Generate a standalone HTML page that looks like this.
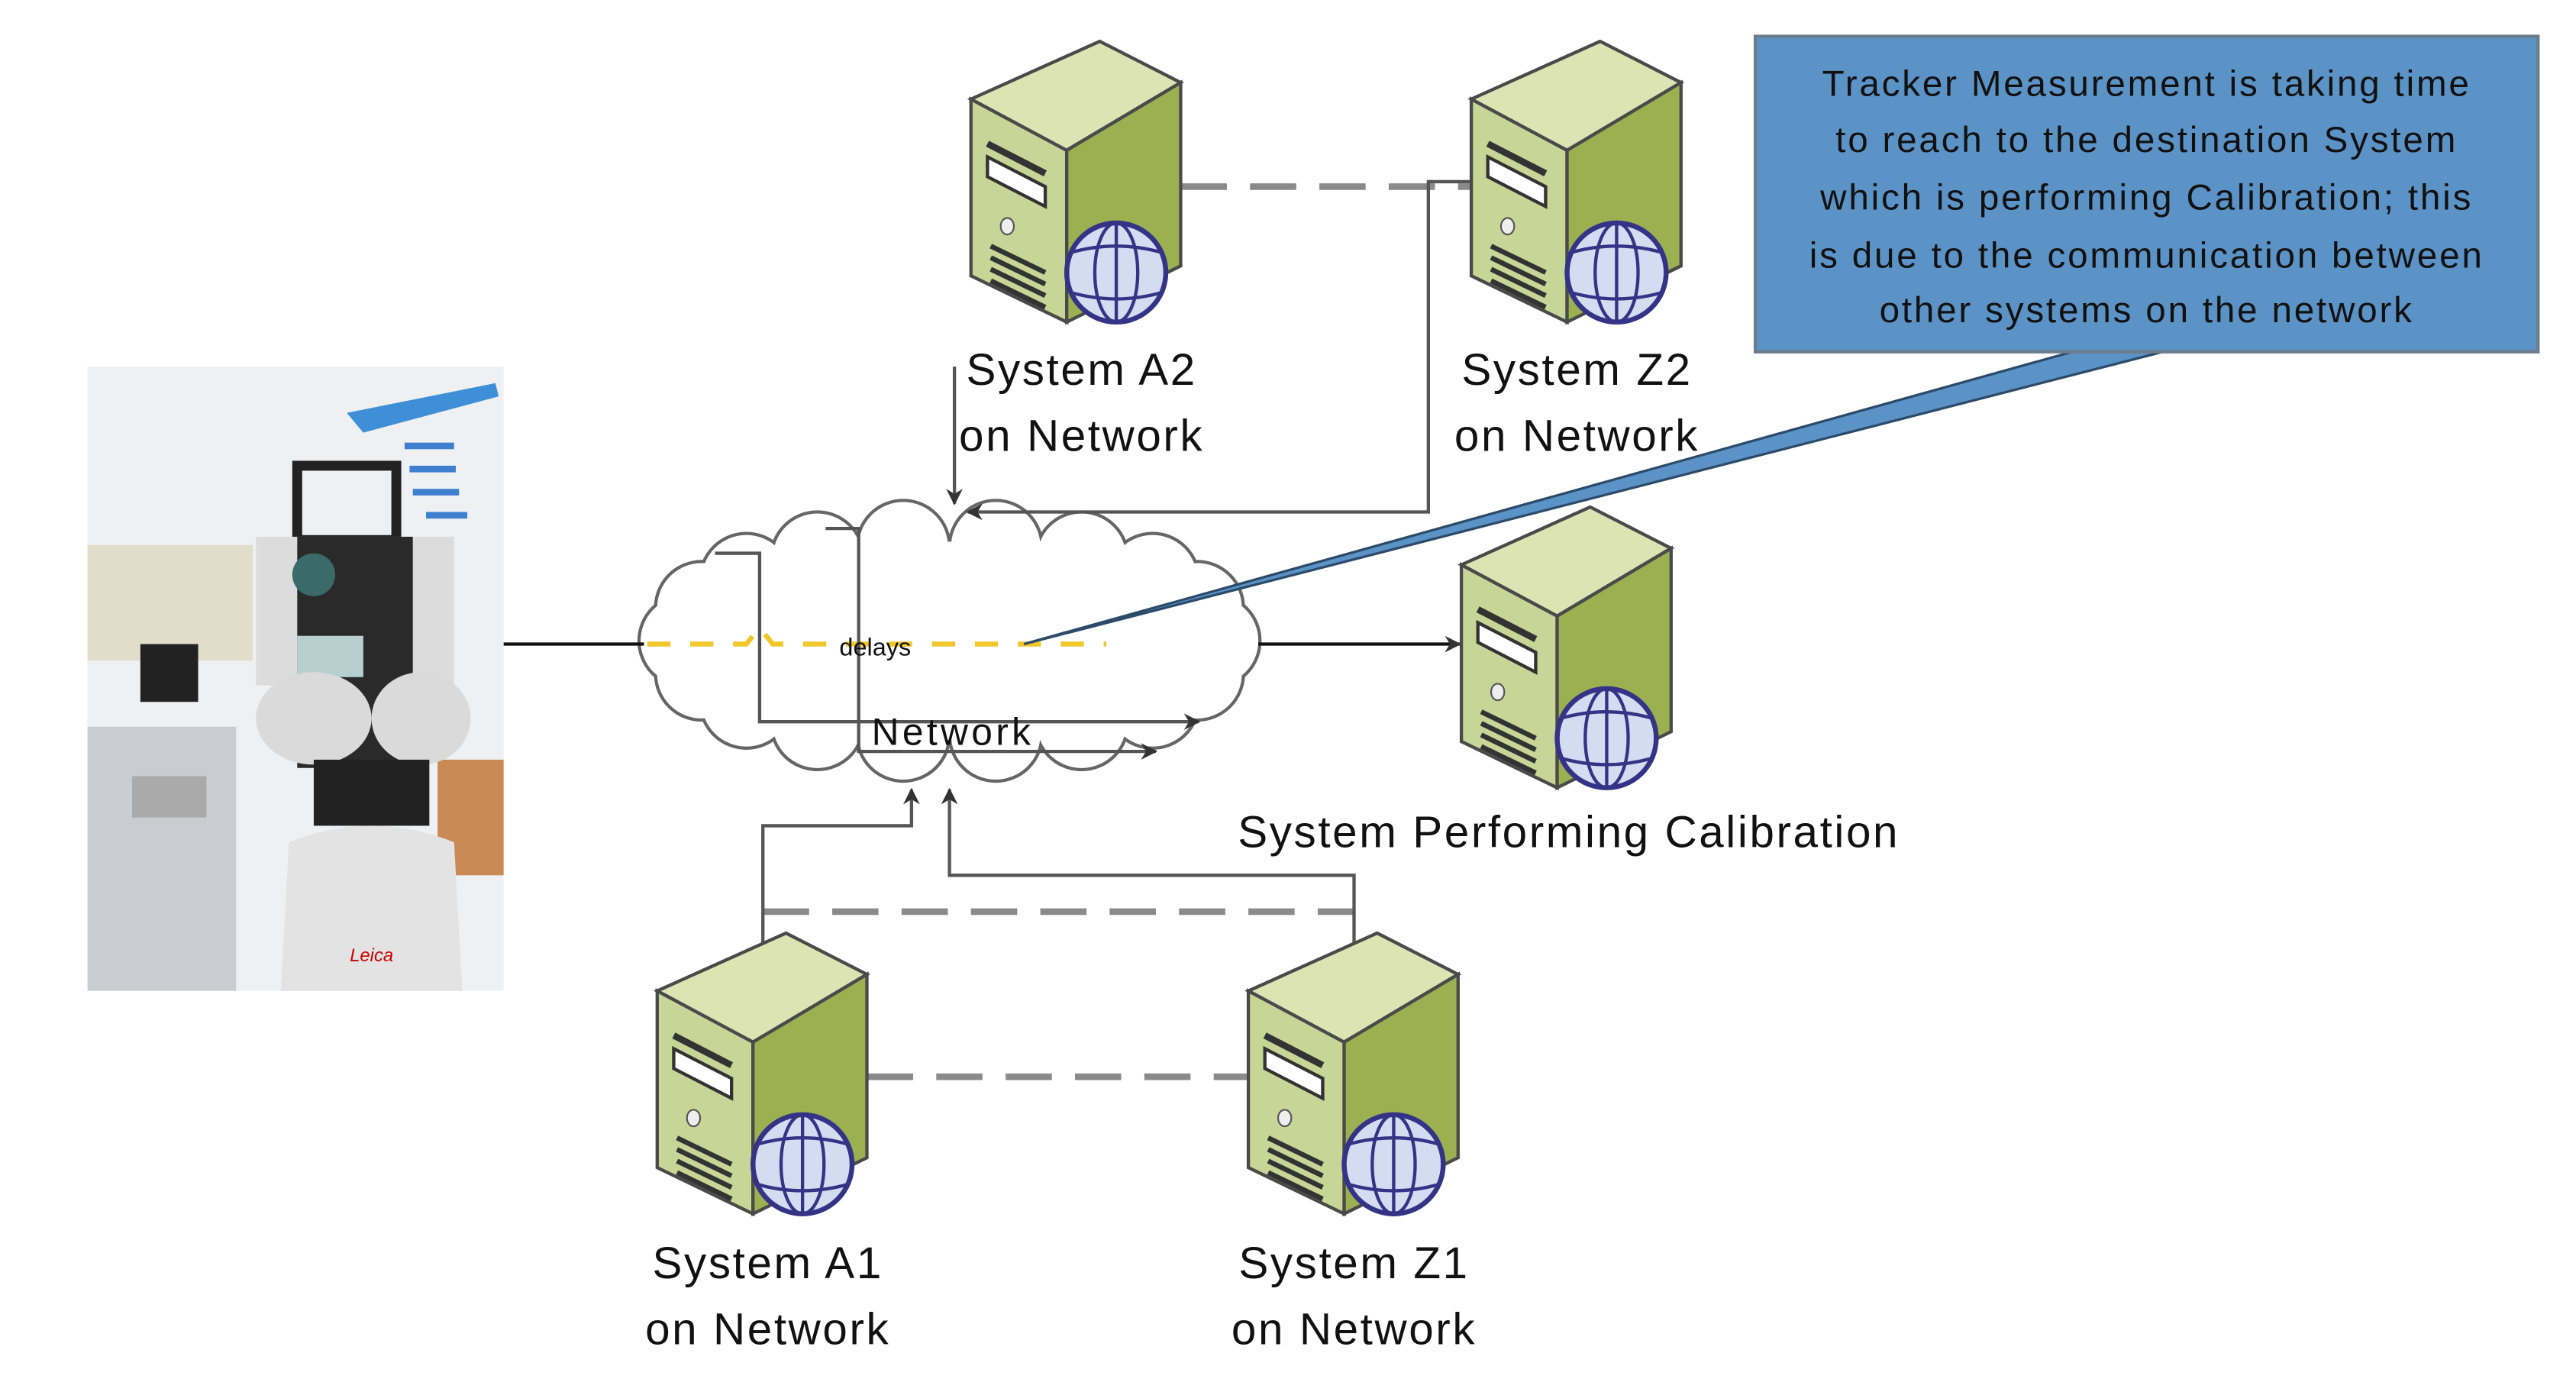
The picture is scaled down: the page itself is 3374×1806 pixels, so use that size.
<!DOCTYPE html>
<html><head><meta charset="utf-8"><style>
html,body{margin:0;padding:0;background:#fff;}
svg{display:block;}
text{font-family:"Liberation Sans",sans-serif;}
</style></head><body>
<svg width="3374" height="1806" viewBox="0 0 1560 835" xmlns="http://www.w3.org/2000/svg">
<defs>
<g id="srv">
  <polygon points="0,35 58,66 58,170 0,142" fill="#c9d596" stroke="#4a4a4a" stroke-width="2"/>
  <polygon points="0,35 78,0 127,25 58,66" fill="#dbe4b2" stroke="#4a4a4a" stroke-width="2"/>
  <polygon points="58,66 127,25 127,136 58,170" fill="#9cb052" stroke="#4a4a4a" stroke-width="2"/>
  <line x1="10" y1="62" x2="45" y2="80" stroke="#333" stroke-width="4"/>
  <polygon points="10,70 45,88 45,100 10,82" fill="#fff" stroke="#333" stroke-width="2"/>
  <ellipse cx="22" cy="112" rx="4" ry="5" fill="#eee" stroke="#555"/>
  <g stroke="#333" stroke-width="3"><line x1="12" y1="124" x2="45" y2="140"/><line x1="12" y1="131" x2="45" y2="147"/><line x1="12" y1="138" x2="45" y2="154"/><line x1="12" y1="145" x2="45" y2="161"/></g>
  <circle cx="88" cy="140" r="30" fill="#d3dcf0" stroke="#343487" stroke-width="3"/>
  <g fill="none" stroke="#343487" stroke-width="2"><ellipse cx="88" cy="140" rx="13" ry="30"/><path d="M60,128 Q88,120 116,128"/><path d="M60,152 Q88,160 116,152"/><line x1="88" y1="110" x2="88" y2="170"/></g>
</g>
<marker id="ar" markerWidth="10" markerHeight="10" refX="9" refY="5" orient="auto" markerUnits="userSpaceOnUse"><path d="M0,0 L10,5 L0,10 L3,5z" fill="#333"/></marker>
</defs>

<!-- photo -->
<rect x="53" y="222" width="252" height="378" fill="#eef0f2"/>
<rect x="53" y="330" width="100" height="70" fill="#e2dccb"/>
<rect x="85" y="390" width="35" height="35" fill="#222"/>
<rect x="53" y="440" width="90" height="160" fill="#c9ccd1"/>
<rect x="80" y="470" width="45" height="25" fill="#aaa"/>
<rect x="265" y="460" width="40" height="70" fill="#c98a55"/>
<polygon points="210,250 300,232 302,240 220,262" fill="#3f8fd8"/>
<g fill="#3f7fd0"><rect x="245" y="268" width="30" height="4"/><rect x="248" y="282" width="28" height="4"/><rect x="250" y="296" width="28" height="4"/><rect x="258" y="310" width="25" height="4"/></g>
<rect x="180" y="282" width="60" height="45" fill="none" stroke="#222" stroke-width="6"/>
<rect x="155" y="325" width="120" height="90" fill="#dcdcdc"/>
<rect x="180" y="325" width="70" height="140" fill="#2a2a2a"/>
<circle cx="190" cy="348" r="13" fill="#3b6a6a"/>
<rect x="180" y="385" width="40" height="25" fill="#b8cfd0"/>
<ellipse cx="190" cy="435" rx="35" ry="28" fill="#dadada"/>
<ellipse cx="255" cy="435" rx="30" ry="28" fill="#dadada"/>
<rect x="190" y="460" width="70" height="40" fill="#222"/>
<path d="M175,510 Q225,490 275,510 L280,600 L170,600z" fill="#e3e3e3"/>
<text x="225" y="582" font-size="11" fill="#c00" text-anchor="middle" font-style="italic">Leica</text>

<!-- cloud -->
<g fill="#fff" stroke="#666" stroke-width="2">
<circle cx="735" cy="388" r="28"/><circle cx="725" cy="368" r="28"/><circle cx="698" cy="351" r="28"/><circle cx="655" cy="338" r="28"/><circle cx="603" cy="331" r="28"/><circle cx="547" cy="331" r="28"/><circle cx="495" cy="338" r="28"/><circle cx="452" cy="351" r="28"/><circle cx="425" cy="368" r="28"/><circle cx="415" cy="388" r="28"/><circle cx="425" cy="408" r="28"/><circle cx="452" cy="425" r="28"/><circle cx="495" cy="438" r="28"/><circle cx="547" cy="445" r="28"/><circle cx="603" cy="445" r="28"/><circle cx="655" cy="438" r="28"/><circle cx="698" cy="425" r="28"/><circle cx="725" cy="408" r="28"/>
</g>
<g fill="#fff">
<circle cx="735" cy="388" r="27"/><circle cx="725" cy="368" r="27"/><circle cx="698" cy="351" r="27"/><circle cx="655" cy="338" r="27"/><circle cx="603" cy="331" r="27"/><circle cx="547" cy="331" r="27"/><circle cx="495" cy="338" r="27"/><circle cx="452" cy="351" r="27"/><circle cx="425" cy="368" r="27"/><circle cx="415" cy="388" r="27"/><circle cx="425" cy="408" r="27"/><circle cx="452" cy="425" r="27"/><circle cx="495" cy="438" r="27"/><circle cx="547" cy="445" r="27"/><circle cx="603" cy="445" r="27"/><circle cx="655" cy="438" r="27"/><circle cx="698" cy="425" r="27"/><circle cx="725" cy="408" r="27"/>
<ellipse cx="575" cy="388" rx="160" ry="60"/>
</g>

<!-- dashed links -->
<g stroke="#8a8a8a" stroke-width="4" stroke-dasharray="28,14" fill="none">
<line x1="715" y1="113" x2="893" y2="113"/>
<line x1="462" y1="552" x2="820" y2="552"/>
<line x1="525" y1="652" x2="757" y2="652"/>
</g>
<path d="M392,390 L452,390 L460,380 L468,390 L670,390" stroke="#f2c72a" stroke-width="3" stroke-dasharray="14,12" fill="none"/>

<!-- connectors -->
<g stroke="#555" stroke-width="2" fill="none">
<line x1="305" y1="390" x2="390" y2="390" stroke="#111"/>
<line x1="762" y1="390" x2="884" y2="390" stroke="#111" marker-end="url(#ar)"/>
<line x1="578" y1="222" x2="578" y2="305" marker-end="url(#ar)"/>
<polyline points="893,110 865,110 865,310 586,310" marker-end="url(#ar)"/>
<polyline points="433,335 460,335 460,437 726,437" marker-end="url(#ar)"/>
<polyline points="500,320 520,320 520,455 700,455" marker-end="url(#ar)"/>
<polyline points="462,650 462,500 552,500 552,478" marker-end="url(#ar)"/>
<polyline points="820,650 820,530 575,530 575,478" marker-end="url(#ar)"/>
</g>

<!-- servers -->
<use href="#srv" x="588" y="25"/>
<use href="#srv" x="891" y="25"/>
<use href="#srv" x="885" y="307"/>
<use href="#srv" x="398" y="565"/>
<use href="#srv" x="756" y="565"/>

<!-- callout -->
<polygon points="1255,213 1310,213 620,390" fill="#5b93c7" stroke="#2c4a6a" stroke-width="1.5"/>
<rect x="1063" y="22" width="474" height="191" fill="#5b93c7" stroke="#6b7d8d" stroke-width="2"/>
<g font-size="22" fill="#111" text-anchor="middle" letter-spacing="1.3">
<text x="1300" y="58">Tracker Measurement is taking time</text>
<text x="1300" y="92">to reach to the destination System</text>
<text x="1300" y="127">which is performing Calibration; this</text>
<text x="1300" y="162">is due to the communication between</text>
<text x="1300" y="195">other systems on the network</text>
</g>

<!-- labels -->
<g font-size="27" fill="#111" text-anchor="middle" letter-spacing="1.2">
<text x="655" y="233">System A2</text><text x="655" y="273">on Network</text>
<text x="955" y="233">System Z2</text><text x="955" y="273">on Network</text>
<text x="950" y="513">System Performing Calibration</text>
<text x="465" y="774">System A1</text><text x="465" y="814">on Network</text>
<text x="820" y="774">System Z1</text><text x="820" y="814">on Network</text>
<text x="577" y="451" font-size="23" letter-spacing="2">Network</text>
<text x="530" y="397" font-size="15" letter-spacing="0">delays</text>
</g>
</svg>
</body></html>
